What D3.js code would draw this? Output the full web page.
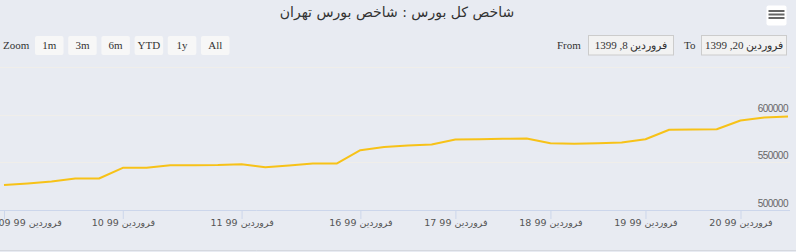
<!DOCTYPE html>
<html>
<head>
<meta charset="utf-8">
<script src="https://cdn.jsdelivr.net/npm/d3@7"></script>
<style>
  body { margin: 0; background: #e8ebf2; }
  svg { display: block; }
</style>
</head>
<body>
<div id="chart"></div>
<script>
// index values, one point per ordinal slot
const VALUES = [
  525700, 527400, 529500, 532600, 532600, 543900, 543900, 546600, 546600, 546800,
  547600, 544400, 546300, 548400, 548400, 562400, 565800, 567400, 568400, 573700,
  573900, 574400, 574700, 569800, 569200, 569700, 570500, 574000, 583900, 584200,
  584500, 593700, 596800, 597900
]
const X_TICK_INDEX = [0, 5, 10, 15, 19, 23, 27, 31]
const X_TICK_LABELS = [
  "09 99 فروردین", "10 99 فروردین", "11 99 فروردین", "16 99 فروردین",
  "17 99 فروردین", "18 99 فروردین", "19 99 فروردین", "20 99 فروردین"
]
const Y_GRID = [500000, 550000, 600000, 650000]
const Y_LABELS = [500000, 550000, 600000]
const ZOOM_BUTTONS = ["1m", "3m", "6m", "YTD", "1y", "All"]
const FROM_DATE = "فروردین 8, 1399"
const TO_DATE = "فروردین 20, 1399"
const TITLE = "شاخص کل بورس : شاخص بورس تهران"

const WIDTH = 796
const HEIGHT = 252
const SANS = "'DejaVu Sans', sans-serif"
const SERIF = "'Liberation Serif', 'DejaVu Serif', serif"

const xScale = d3.scaleLinear()
  .domain([0, VALUES.length - 1])
  .range([4, 788])

const yScale = d3.scaleLinear()
  .domain([500000, 650000])
  .range([209.5, 67])

const svg = d3.select("#chart")
  .append("svg")
  .attr("width", WIDTH)
  .attr("height", HEIGHT)

svg.append("rect")
  .attr("width", WIDTH)
  .attr("height", HEIGHT)
  .attr("fill", "#e8ebf2")

// title
svg.append("text")
  .attr("x", 397)
  .attr("y", 17)
  .attr("text-anchor", "middle")
  .attr("font-family", SANS)
  .attr("font-size", 14)
  .attr("fill", "#333")
  .text(TITLE)

// export menu button
const menu = svg.append("g")
menu.append("rect")
  .attr("x", 766.5).attr("y", 5.5)
  .attr("width", 20).attr("height", 20)
  .attr("rx", 2)
  .attr("fill", "#fff")
menu.selectAll("line")
  .data([11, 14.5, 18])
  .enter()
  .append("line")
  .attr("x1", 768.5).attr("x2", 784.5)
  .attr("y1", d => d).attr("y2", d => d)
  .attr("stroke", "#666")
  .attr("stroke-width", 2)

// range selector
svg.append("text")
  .attr("x", 3).attr("y", 48.5)
  .attr("font-family", SERIF)
  .attr("font-size", 11)
  .attr("fill", "#333")
  .text("Zoom")

const btn = svg.selectAll("g.btn")
  .data(ZOOM_BUTTONS)
  .enter()
  .append("g")
  .attr("class", "btn")
  .attr("transform", (d, i) => `translate(${35 + i * 33.2},36)`)
btn.append("rect")
  .attr("width", 28.5).attr("height", 19)
  .attr("rx", 2)
  .attr("fill", "#f7f7f7")
btn.append("text")
  .attr("x", 14.25).attr("y", 12.8)
  .attr("text-anchor", "middle")
  .attr("font-family", SERIF)
  .attr("font-size", 11)
  .attr("fill", "#333")
  .text(d => d)

const inputs = [
  { label: "From", lx: 557, bx: 588.5, value: FROM_DATE },
  { label: "To", lx: 684, bx: 701.5, value: TO_DATE }
]
inputs.forEach(inp => {
  svg.append("text")
    .attr("x", inp.lx).attr("y", 48.5)
    .attr("font-family", SERIF)
    .attr("font-size", 11)
    .attr("fill", "#333")
    .text(inp.label)
  svg.append("rect")
    .attr("x", inp.bx).attr("y", 35.5)
    .attr("width", 85).attr("height", 19.5)
    .attr("fill", "#f2f2f2")
    .attr("stroke", "#cccccc")
  svg.append("text")
    .attr("x", inp.bx + 42.5).attr("y", 49)
    .attr("text-anchor", "middle")
    .attr("font-family", SERIF)
    .attr("font-size", 11)
    .attr("fill", "#333")
    .text(inp.value)
})

// horizontal grid
svg.selectAll("line.grid")
  .data(Y_GRID.slice(1))
  .enter()
  .append("line")
  .attr("class", "grid")
  .attr("x1", 0).attr("x2", 790)
  .attr("y1", d => Math.round(yScale(d)) + 0.5)
  .attr("y2", d => Math.round(yScale(d)) + 0.5)
  .attr("stroke", "#f0eeea")

svg.selectAll("text.ylab")
  .data(Y_LABELS)
  .enter()
  .append("text")
  .attr("class", "ylab")
  .attr("x", 788)
  .attr("y", d => yScale(d) - 3)
  .attr("text-anchor", "end")
  .attr("font-family", "'Liberation Sans', sans-serif")
  .attr("font-size", 10)
  .attr("letter-spacing", -0.5)
  .attr("fill", "#666")
  .text(d => d)

// x axis
const xAxis = d3.axisBottom(xScale)
  .tickValues(X_TICK_INDEX)
  .tickSize(9)
  .tickFormat((d, i) => X_TICK_LABELS[i])

const gx = svg.append("g")
  .attr("transform", `translate(0,${Math.round(yScale(500000))})`)
  .call(xAxis)
gx.select(".domain")
  .attr("d", "M0,0.5H790")
  .attr("stroke", "#ccd6eb")
gx.selectAll(".tick line").attr("stroke", "#ccd6eb")
gx.selectAll(".tick text")
  .attr("y", 16)
  .attr("dy", 0)
  .attr("font-family", SANS)
  .attr("font-size", 9.5)
  .attr("fill", "#555")
gx.selectAll(".tick").filter((d, i) => i === 0).select("text")
  .attr("text-anchor", "start")
  .attr("x", -6)

// series line
const line = d3.line()
  .x((d, i) => xScale(i))
  .y(d => yScale(d))

svg.append("path")
  .datum(VALUES)
  .attr("d", line)
  .attr("fill", "none")
  .attr("stroke", "#f7c218")
  .attr("stroke-width", 2)
  .attr("stroke-linejoin", "round")

// navigator top edge
svg.append("line")
  .attr("x1", 0).attr("x2", 796)
  .attr("y1", 250.5).attr("y2", 250.5)
  .attr("stroke", "#d5d8df")
</script>
</body>
</html>
